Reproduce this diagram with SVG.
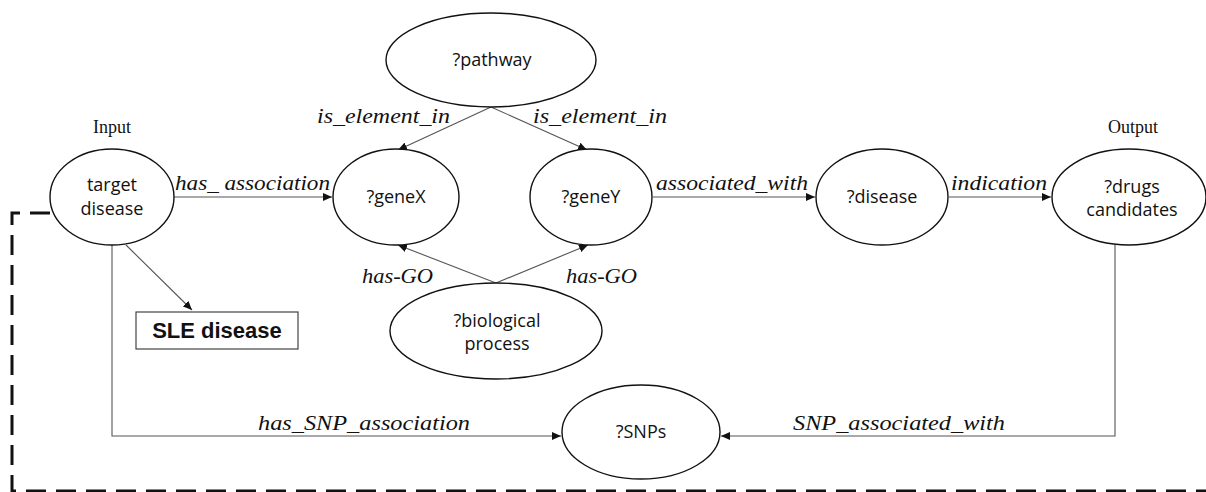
<svg xmlns="http://www.w3.org/2000/svg" width="1206" height="492" viewBox="0 0 1206 492">
<style>
.node ellipse{fill:#fff;stroke:#111;stroke-width:1.4}
.nt{font-family:"Open Sans","Noto Sans",sans-serif;font-size:18px;fill:#111;text-anchor:middle}
.lbl{font-family:"Liberation Serif",serif;font-style:italic;font-size:22px;fill:#111}
.io{font-family:"Liberation Serif",serif;font-size:18px;fill:#111;text-anchor:middle}
.edge{fill:none;stroke:#555;stroke-width:1.1}
</style>
<defs>
<marker id="arr" markerUnits="userSpaceOnUse" markerWidth="10" markerHeight="8" refX="9" refY="4" orient="auto">
<path d="M0,0 L9,4 L0,8 Z" fill="#111"/>
</marker>
</defs>
<rect width="1206" height="492" fill="#fff"/>
<g id="connectors">
<path class="edge" d="M174,197 H332" marker-end="url(#arr)"/>
<path class="edge" d="M491,107 L398,150" marker-end="url(#arr)"/>
<path class="edge" d="M491,107 L587,150" marker-end="url(#arr)"/>
<path class="edge" d="M496,283 L398,245" marker-end="url(#arr)"/>
<path class="edge" d="M496,283 L588,245" marker-end="url(#arr)"/>
<path class="edge" d="M653,197 H815" marker-end="url(#arr)"/>
<path class="edge" d="M949,197 H1051" marker-end="url(#arr)"/>
<path class="edge" d="M126,245 L192,310" marker-end="url(#arr)"/>
<path class="edge" d="M112,245 V436 H561" marker-end="url(#arr)"/>
<path class="edge" d="M1115,245 V436 H721" marker-end="url(#arr)"/>
<path d="M50,213 H12 V491 H1206" fill="none" stroke="#111" stroke-width="3" stroke-dasharray="20 10"/>
<text class="lbl" x="175" y="190" textLength="155" lengthAdjust="spacingAndGlyphs">has_ association</text>
<text class="lbl" x="317" y="123" textLength="133" lengthAdjust="spacingAndGlyphs">is_element_in</text>
<text class="lbl" x="533" y="123" textLength="134" lengthAdjust="spacingAndGlyphs">is_element_in</text>
<text class="lbl" x="656" y="190" textLength="152" lengthAdjust="spacingAndGlyphs">associated_with</text>
<text class="lbl" x="951" y="190" textLength="96" lengthAdjust="spacingAndGlyphs">indication</text>
<text class="lbl" x="362" y="283" textLength="71" lengthAdjust="spacingAndGlyphs">has-GO</text>
<text class="lbl" x="566" y="283" textLength="71" lengthAdjust="spacingAndGlyphs">has-GO</text>
<text class="lbl" x="258" y="430" textLength="212" lengthAdjust="spacingAndGlyphs">has_SNP_association</text>
<text class="lbl" x="793" y="430" textLength="212" lengthAdjust="spacingAndGlyphs">SNP_associated_with</text>
</g>
<g id="input-label"><text class="io" x="112" y="133">Input</text></g>
<g id="output-label"><text class="io" x="1133" y="133">Output</text></g>
<g id="target-disease" class="node">
<ellipse cx="112" cy="197" rx="62" ry="48"/>
<text class="nt" x="112" y="191">target</text>
<text class="nt" x="112" y="215">disease</text>
</g>
<g id="pathway" class="node">
<ellipse cx="491" cy="60" rx="105" ry="47"/>
<text class="nt" x="492" y="66">?pathway</text>
</g>
<g id="geneX" class="node">
<ellipse cx="396" cy="197" rx="63" ry="48"/>
<text class="nt" x="396" y="203">?geneX</text>
</g>
<g id="geneY" class="node">
<ellipse cx="591" cy="197" rx="61" ry="48"/>
<text class="nt" x="591" y="203">?geneY</text>
</g>
<g id="disease" class="node">
<ellipse cx="882" cy="197" rx="66" ry="48"/>
<text class="nt" x="882" y="203">?disease</text>
</g>
<g id="drugs" class="node">
<ellipse cx="1129" cy="197" rx="77" ry="48"/>
<text class="nt" x="1132" y="193">?drugs</text>
<text class="nt" x="1132" y="216">candidates</text>
</g>
<g id="biological-process" class="node">
<ellipse cx="496" cy="331" rx="106" ry="48"/>
<text class="nt" x="497" y="327">?biological</text>
<text class="nt" x="497" y="350">process</text>
</g>
<g id="snps" class="node">
<ellipse cx="641" cy="432" rx="79" ry="47"/>
<text class="nt" x="641" y="438">?SNPs</text>
</g>
<g id="sle-disease">
<rect x="136" y="312" width="162" height="37" fill="#fff" stroke="#444" stroke-width="1.2"/>
<text x="217" y="338" font-family="'Liberation Sans',Arial,sans-serif" font-weight="bold" font-size="22" fill="#111" text-anchor="middle">SLE disease</text>
</g>
</svg>
